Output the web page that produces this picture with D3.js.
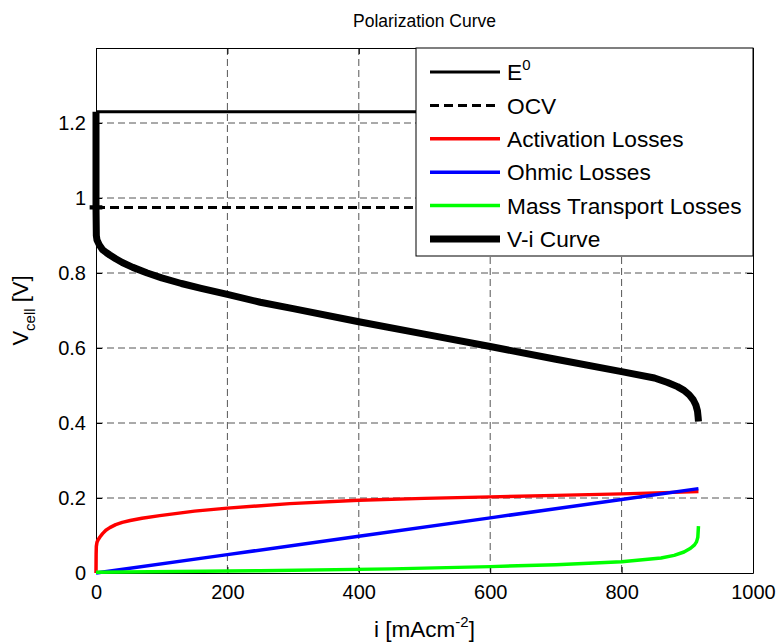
<!DOCTYPE html>
<html>
<head>
<meta charset="utf-8">
<script src="https://cdn.jsdelivr.net/npm/d3@7"></script>
<style>
  body { margin: 0; background: #fff; }
  svg { font-family: "Liberation Sans", Arial, sans-serif; }
</style>
</head>
<body>
<svg id="chart" width="781" height="643"></svg>
<script>
// values
var e0 = 1.23;
var ocv = 0.975;

var viI = [0, 0, 0.5, 1.5, 5, 10, 16, 21, 30, 40, 56, 78, 100, 130, 160, 200, 250, 300, 400, 500, 600, 700, 800, 850, 870, 885, 895, 903, 909, 913, 915.5, 916.5, 917];
var viV = [1.23, 0.975, 0.90, 0.888, 0.875, 0.862, 0.854, 0.848, 0.838, 0.828, 0.815, 0.80, 0.787, 0.772, 0.759, 0.743, 0.722, 0.705, 0.670, 0.637, 0.604, 0.570, 0.537, 0.520, 0.508, 0.497, 0.487, 0.475, 0.462, 0.448, 0.432, 0.415, 0.404];

var actI = [0, 0.2, 0.5, 1.5, 3, 6, 10, 15, 21, 30, 40, 52, 70, 97, 150, 200, 295, 400, 500, 600, 700, 800, 917];
var actV = [0, 0.05, 0.071, 0.082, 0.088, 0.096, 0.105, 0.114, 0.121, 0.129, 0.135, 0.140, 0.146, 0.153, 0.165, 0.173, 0.185, 0.194, 0.199, 0.203, 0.207, 0.211, 0.217];

var ohmI = [0, 200, 400, 600, 800, 917];
var ohmV = [0, 0.049, 0.098, 0.147, 0.196, 0.225];

var massI = [0, 250, 450, 600, 700, 800, 860, 880, 895, 905, 911, 914, 916, 917];
var massV = [0.002, 0.006, 0.011, 0.017, 0.022, 0.030, 0.040, 0.047, 0.056, 0.066, 0.075, 0.083, 0.095, 0.125];

var xTicks = [0, 200, 400, 600, 800, 1000];
var yTicks = [0, 0.2, 0.4, 0.6, 0.8, 1, 1.2];

var legendKeys = ["E0", "OCV", "Activation Losses", "Ohmic Losses", "Mass Transport Losses", "V-i Curve"];

var svg = d3.select("#chart"),
    margin = {top: 48, right: 28, bottom: 70, left: 96},
    width = 781 - margin.left - margin.right,
    height = 643 - margin.top - margin.bottom,
    g = svg.append("g").attr("transform", "translate(" + margin.left + "," + margin.top + ")");

var x = d3.scaleLinear().domain([0, 1000]).range([0, width]);
var y = d3.scaleLinear().domain([0, 1.4]).range([height, 0]);

var fmt = function(d) { return d3.format("~g")(d); };

// grid
g.append("g").selectAll("line")
    .data(xTicks.slice(1, -1))
    .enter().append("line")
    .attr("x1", function(d) { return x(d); })
    .attr("x2", function(d) { return x(d); })
    .attr("y1", 0).attr("y2", height)
    .attr("stroke", "#555").attr("stroke-dasharray", "7,4");
g.append("g").selectAll("line")
    .data(yTicks.slice(1))
    .enter().append("line")
    .attr("y1", function(d) { return y(d); })
    .attr("y2", function(d) { return y(d); })
    .attr("x1", 0).attr("x2", width)
    .attr("stroke", "#555").attr("stroke-dasharray", "7,4");

// axes (MATLAB style inward ticks, box on)
var axB = g.append("g")
    .attr("transform", "translate(0," + height + ")")
    .call(d3.axisBottom(x).tickValues(xTicks).tickFormat(fmt).tickSizeInner(-6).tickSizeOuter(0).tickPadding(12));
var axL = g.append("g")
    .call(d3.axisLeft(y).tickValues(yTicks).tickFormat(fmt).tickSizeInner(-6).tickSizeOuter(0).tickPadding(10));
var axT = g.append("g")
    .call(d3.axisTop(x).tickValues(xTicks).tickFormat("").tickSizeInner(-6).tickSizeOuter(0));
var axR = g.append("g")
    .attr("transform", "translate(" + width + ",0)")
    .call(d3.axisRight(y).tickValues(yTicks).tickFormat("").tickSizeInner(-6).tickSizeOuter(0));
[axB, axL, axT, axR].forEach(function(a) {
    a.selectAll("text").attr("font-size", 20).attr("fill", "#000").attr("font-family", "Liberation Sans, Arial, sans-serif");
    a.selectAll("line, path").attr("stroke", "#000");
});

function lineOf(xs, ys) {
    return d3.line()
        .x(function(d, i) { return x(xs[i]); })
        .y(function(d, i) { return y(ys[i]); })(xs);
}

// E0 and OCV
g.append("line")
    .attr("x1", x(0)).attr("x2", x(1000))
    .attr("y1", y(e0)).attr("y2", y(e0))
    .attr("stroke", "#000").attr("stroke-width", 3);
g.append("line")
    .attr("x1", x(0)).attr("x2", x(1000))
    .attr("y1", y(ocv)).attr("y2", y(ocv))
    .attr("stroke", "#000").attr("stroke-width", 3).attr("stroke-dasharray", "9,5");

var curves = [
    {xs: actI, ys: actV, color: "#ff0000", w: 3.5},
    {xs: ohmI, ys: ohmV, color: "#0000ff", w: 3.5},
    {xs: massI, ys: massV, color: "#00ff00", w: 3.5},
    {xs: viI, ys: viV, color: "#000", w: 7}
];
curves.forEach(function(c) {
    g.append("path")
        .attr("d", lineOf(c.xs, c.ys))
        .attr("fill", "none")
        .attr("stroke", c.color)
        .attr("stroke-width", c.w)
        .attr("stroke-linejoin", "round");
});

// OCV marker
g.append("path")
    .attr("d", d3.symbol().type(d3.symbolCross).size(90)())
    .attr("transform", "translate(" + x(0) + "," + y(ocv) + ")")
    .attr("fill", "#000");

// legend
var lg = svg.append("g").attr("transform", "translate(416,48)");
lg.append("rect")
    .attr("width", 337).attr("height", 208)
    .attr("fill", "#fff").attr("stroke", "#000");
var legStyle = [
    {color: "#000", w: 3, dash: null},
    {color: "#000", w: 3, dash: "9,5"},
    {color: "#ff0000", w: 3.5, dash: null},
    {color: "#0000ff", w: 3.5, dash: null},
    {color: "#00ff00", w: 3.5, dash: null},
    {color: "#000", w: 7, dash: null}
];
var row = lg.selectAll("g.row")
    .data(legendKeys)
    .enter().append("g")
    .attr("class", "row")
    .attr("transform", function(d, i) { return "translate(0," + (24 + i * 33.4) + ")"; });
row.append("line")
    .attr("x1", 14).attr("x2", 84)
    .attr("stroke", function(d, i) { return legStyle[i].color; })
    .attr("stroke-width", function(d, i) { return legStyle[i].w; })
    .attr("stroke-dasharray", function(d, i) { return legStyle[i].dash; });
var lt = row.append("text")
    .attr("x", 91).attr("dy", "0.36em")
    .attr("font-size", 22.7);
lt.each(function(d) {
    var t = d3.select(this);
    if (d === "E0") {
        t.append("tspan").text("E");
        t.append("tspan").attr("dy", -10).attr("font-size", 15).text("0");
    } else {
        t.text(d);
    }
});

// title and labels
svg.append("text")
    .attr("x", margin.left + width / 2).attr("y", 27)
    .attr("text-anchor", "middle").attr("font-size", 17.5)
    .text("Polarization Curve");

var xl = svg.append("text")
    .attr("x", margin.left + width / 2).attr("y", 637)
    .attr("text-anchor", "middle").attr("font-size", 22.5);
xl.append("tspan").text("i [mAcm");
xl.append("tspan").attr("dy", -10).attr("font-size", 15).text("-2");
xl.append("tspan").attr("dy", 10).text("]");

var yl = svg.append("text")
    .attr("transform", "translate(28," + (margin.top + height / 2) + ") rotate(-90)")
    .attr("text-anchor", "middle").attr("font-size", 22);
yl.append("tspan").text("V");
yl.append("tspan").attr("dy", 7).attr("font-size", 15).text("cell");
yl.append("tspan").attr("dy", -7).text(" [V]");
</script>
</body>
</html>
